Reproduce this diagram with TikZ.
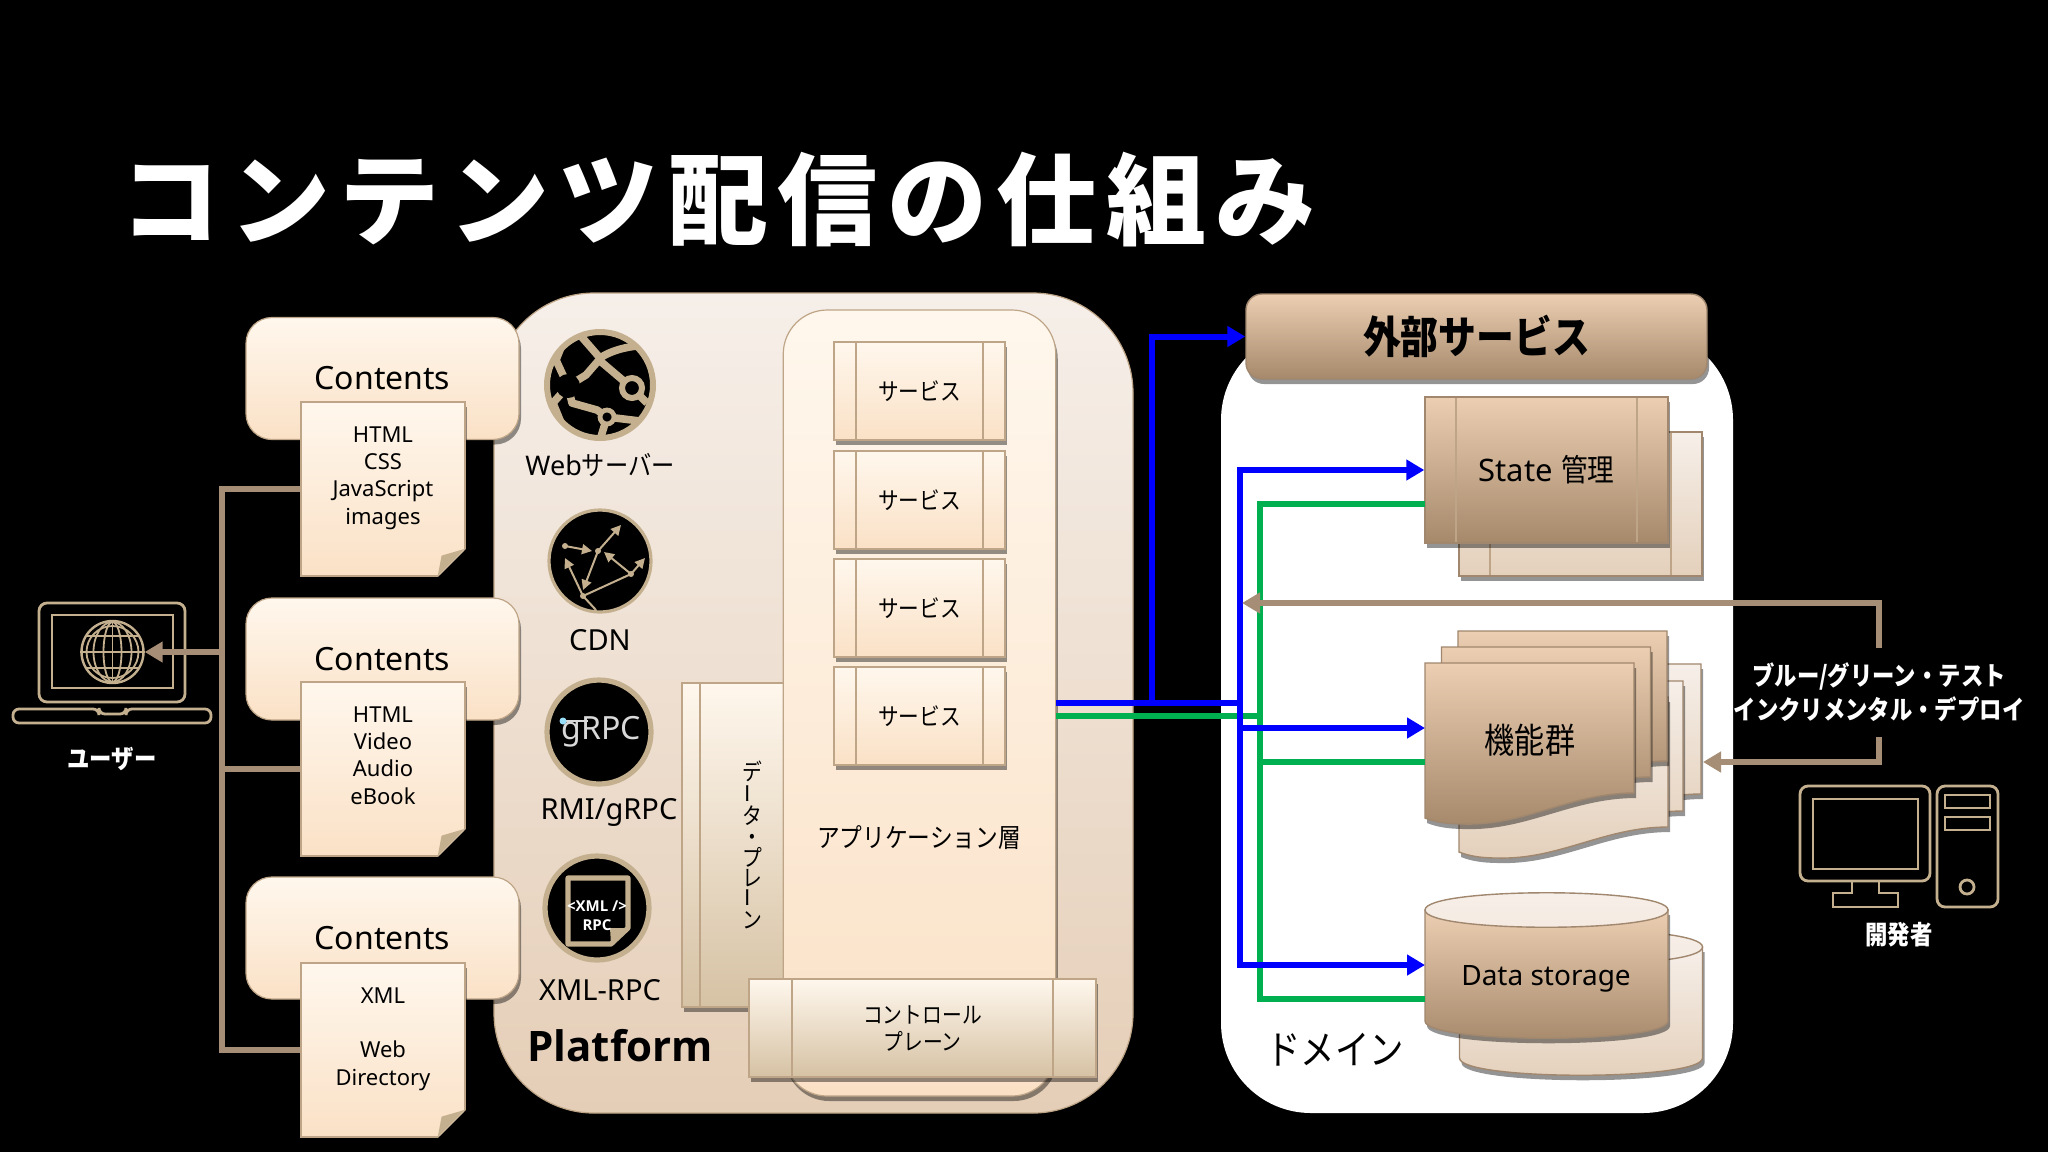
\documentclass[tikz,border=0pt]{standalone}
\usepackage{fontspec}
\usepackage{xcolor}
\usetikzlibrary{arrows.meta, positioning, calc, shadows}
\setmainfont{Noto Sans}
\newfontfamily\jpfont{Noto Sans CJK JP}[FakeStretch=0.86]
\newfontfamily\titlefont{Noto Sans CJK JP}[LetterSpace=9.5]
\newfontfamily\heavyfont{Open Sans}
\definecolor{creamtop}{RGB}{255,247,237}
\definecolor{creambot}{RGB}{250,225,198}
\definecolor{creammid}{RGB}{252,240,226}
\definecolor{sandbot}{RGB}{214,194,164}
\definecolor{platetop}{RGB}{246,239,233}
\definecolor{platebot}{RGB}{229,206,183}
\definecolor{claytop}{RGB}{236,206,178}
\definecolor{claybot}{RGB}{166,137,107}
\definecolor{palebot}{RGB}{228,208,187}
\definecolor{edgetan}{RGB}{190,165,135}
\definecolor{edgeclay}{RGB}{160,135,110}
\definecolor{icontan}{RGB}{196,176,143}
\definecolor{wirebrown}{RGB}{166,141,117}
\definecolor{wireblue}{RGB}{0,0,255}
\definecolor{wiregreen}{RGB}{0,176,80}
\tikzset{
    sz/.style 2 args={minimum width=#1*0.5pt, minimum height=#2*0.5pt, inner sep=0pt},
    softshade/.style={drop shadow={shadow xshift=1pt, shadow yshift=-2.5pt, opacity=0.42, fill=black}},
    cream/.style={draw=edgetan, line width=0.6pt, top color=creamtop, bottom color=creambot, softshade},
    sand/.style={draw=edgetan, line width=0.6pt, top color=creamtop, middle color=creammid, bottom color=sandbot, softshade},
    clay/.style={draw=edgeclay, line width=0.7pt, top color=claytop, bottom color=claybot, softshade},
    pale/.style={draw=edgeclay, line width=0.7pt, top color=platetop, bottom color=palebot, softshade},
    sidelines/.style={path picture={
        \draw[edgetan, line width=0.6pt] ([xshift=#1*0.5pt]path picture bounding box.north west) -- ([xshift=#1*0.5pt]path picture bounding box.south west);
        \draw[edgetan, line width=0.6pt] ([xshift=-#1*0.5pt]path picture bounding box.north east) -- ([xshift=-#1*0.5pt]path picture bounding box.south east);
    }},
    smalljp/.style={font=\fontsize{11.5}{13.5}\selectfont\jpfont, align=center},
    midjp/.style={font=\fontsize{13.2}{17}\selectfont\jpfont, align=center},
    iconlabel/.style={font=\fontsize{14.5}{16}\selectfont},
    whitejp/.style={font=\fontsize{13}{17}\selectfont\jpfont\bfseries, text=white, align=center},
    iconline/.style={draw=icontan, line width=1.4pt},
    iconrim/.style={circle, fill=black, draw=icontan, inner sep=0pt},
    wire/.style={line width=3pt},
    bluewire/.style={wire, wireblue},
    greenwire/.style={wire, wiregreen},
    brownwire/.style={wire, wirebrown},
    bluearrow/.style={bluewire, -{Triangle[length=9pt,width=10pt]}},
    brownarrow/.style={brownwire, -{Triangle[length=9pt,width=10pt]}},
}
\newcommand{\wavedoc}[3]{\path[#3, shift={(#1,#2)}] (1425,663) -- (1634,663) -- (1634,793) .. controls (1570,793) and (1525,826) .. (1463,824) .. controls (1447,824) and (1435,822) .. (1425,818) -- cycle;}
\newcommand{\drum}[3]{
    \path[#3, shift={(#1,#2)}] (1425,910) -- (1425,1021) .. controls (1425,1044) and (1668,1044) .. (1668,1021) -- (1668,910) -- cycle;
    \path[draw=edgeclay, line width=0.7pt, top color=platetop, bottom color=platetop!85!claytop, shift={(#1,#2)}] (1425,910) .. controls (1425,887) and (1668,887) .. (1668,910) .. controls (1668,933) and (1425,933) .. (1425,910) -- cycle;
}

\begin{document}
\begin{tikzpicture}[x=0.5pt, y=-0.5pt]

\fill[black] (0,0) rectangle (2048,1152);
\useasboundingbox (0,0) rectangle (2048,1152);

\node[font=\fontsize{50}{58}\selectfont\titlefont\bfseries, text=white, inner sep=0pt] (title) at (718,200) {コンテンツ配信の仕組み};

% Platform
\node[sz={639}{820}, rounded corners=50pt, draw=edgetan, line width=0.6pt, top color=platetop, bottom color=platebot] (platform) at (813.5,703) {};
\node[font=\fontsize{21}{24}\selectfont\heavyfont\bfseries, inner sep=0pt] (platformtxt) at (620,1046) {Platform};

% Contents
\foreach \i/\ybox/\ydoc/\txt in {a/378.5/489/{HTML\\CSS\\JavaScript\\images},
                                 b/659/769/{HTML\\Video\\Audio\\eBook},
                                 c/938/1050/{XML\\~\\Web\\Directory}} {
    \node[cream, sz={273}{122}, rounded corners=13pt, font=\fontsize{16}{18}\selectfont] (box\i) at (382.5,\ybox) {Contents};
    \node[cream, sz={164}{174}, align=center, font=\fontsize{11}{13.7}\selectfont] (doc\i) at (383,\ydoc) {\txt\\~};
    \fill[black] (doc\i.south east) ++(1,1) -- ++(0,-29) -- ++(-29,29) -- cycle;
    \fill[icontan] (doc\i.south east) ++(0,-28) -- ++(-24,7) -- ++(-4,21) -- cycle;
}

% Contents to user
\coordinate (trunk) at (222,652);
\draw[brownwire] (doca.west) -| (trunk);
\draw[brownwire] (docc.west) -| (trunk);
\draw[brownwire] (docb.west) -| (trunk);

% User
\draw[iconline, rounded corners=4pt] (39,702) -- (39,603) -- (185,603) -- (185,702) -- cycle;
\draw[iconline] (52,615) rectangle (173,688);
\draw[iconline, rounded corners=3pt] (13,709) -- (99,709) -- (99,714) -- (126,714) -- (126,709) -- (211,709) -- (211,723) -- (13,723) -- cycle;
\node[circle, draw=icontan, line width=1.2pt, inner sep=0pt, minimum size=31pt] (globe) at (112.5,652) {};
\draw[icontan, line width=0.9pt] (globe) circle[x radius=26, y radius=26];
\foreach \rx in {9,19} {
    \draw[icontan, line width=0.9pt] (globe) circle[x radius=\rx, y radius=30];
}
\draw[icontan, line width=0.9pt] (globe.north) -- (globe.south);
\draw[icontan, line width=0.9pt] (globe.west) -- (globe.east);
\draw[icontan, line width=0.9pt] (85,636) -- (140,636);
\draw[icontan, line width=0.9pt] (85,668) -- (140,668);
\draw[brownarrow] (trunk) -- (globe.east);
\node[whitejp] (usertxt) at (112,759) {ユーザー};

% Web
\node[iconrim, line width=3pt, minimum size=53pt] (webicon) at (600,385) {};
\begin{scope}
    \clip (webicon) circle[radius=52];
    \draw[icontan, line width=3.8pt, line join=round] (568,386) -- (586,375) -- (599,360) -- (632,388) -- (647,403);
    \draw[icontan, line width=3.8pt, line join=round] (568,386) -- (572,403) -- (597,410) -- (607,417) -- (640,421);
    \draw[icontan, line width=3.8pt, line join=round] (568,386) -- (556,360) -- (562,345);
    \draw[icontan, line width=3.8pt, line join=round] (568,386) -- (553,403) -- (562,425);
    \draw[icontan, line width=3.8pt, line join=round] (580,335) -- (600,358) .. controls (612,350) and (630,345) .. (655,345);
    \draw[icontan, line width=3.8pt] (607,417) -- (600,440);
    \fill[black] (568,386) circle[radius=12];
    \filldraw[fill=black, draw=icontan, line width=3pt] (632,388) circle[radius=10];
    \filldraw[fill=black, draw=icontan, line width=2.4pt] (607,417) circle[radius=7];
\end{scope}
\node[font=\fontsize{13.5}{16}\selectfont] (webtxt) at (600,465) {Web{\jpfont サーバー}};

% CDN
\node[iconrim, line width=1.6pt, minimum size=51pt] (cdnicon) at (600,561) {};
\foreach \ax/\ay/\bx/\by in {565/546/592/551, 598/551/621/525, 583/596/565/558, 598/551/583/590,
                             631/574/604/552, 631/574/645/558} {
    \draw[icontan, line width=1pt, -{Triangle[length=5pt,width=5pt]}] (\ax,\ay) -- (\bx,\by);
}
\draw[icontan, line width=1pt] (631,574) -- (583,596) -- (596,610);
\foreach \ax/\ay in {565/546, 598/551, 583/596, 631/574} {
    \fill[icontan] (\ax,\ay) circle[radius=3];
}
\node[iconlabel] (cdntxt) at (600,640) {CDN};

% gRPC
\node[iconrim, line width=2.6pt, minimum size=52pt, font=\fontsize{16}{18}\selectfont, text=black!15] (grpcicon) at (599,732) {\hspace{2pt}gRPC};
\draw[black!15, line width=0.7pt] (563,721) -- (588,721);
\fill[white!60!cyan] (563,721) circle[radius=3.5];
\node[iconlabel] (grpctxt) at (609,812) {RMI/gRPC};

% XML-RPC
\node[iconrim, line width=2.6pt, minimum size=52pt] (xmlicon) at (597,908) {};
\draw[icontan, line width=2.6pt, line join=round] (568,878) -- (628,878) -- (628,928) -- (611,944) -- (568,944) -- cycle;
\fill[icontan] (628,928) -- (611,944) -- (610,928) -- cycle;
\node[font=\fontsize{7.5}{9.5}\selectfont\heavyfont\bfseries, text=white, align=center, inner sep=0pt] (xmltxt) at (597,916) {<XML />\\RPC};
\node[iconlabel] (xmllabel) at (600,990) {XML-RPC};

% Planes and services
\node[sand, sz={102}{324}] (dataplane) at (733,845) {};
\draw[edgetan, line width=0.6pt] (700,683) -- (700,1007);
\node[cream, sz={272.5}{786}, rounded corners=22pt] (app) at (919.5,703) {};
\node[midjp] (apptxt) at (919,838) {アプリケーション層};
\node[smalljp, font=\fontsize{11.5}{10.4}\selectfont\jpfont] (datatxt) at (752,845) {デ\\\rotatebox{90}{ー}\\タ\\・\\プ\\レ\\\rotatebox{90}{ー}\\ン};
\foreach \i/\yc in {1/391, 2/500, 3/608, 4/716} {
    \node[cream, sidelines=22, sz={171}{98}, smalljp, font=\fontsize{12}{14}\selectfont\jpfont] (svc\i) at (919.5,\yc) {サービス};
}
\node[sand, sidelines=43, sz={347}{98}, smalljp] (control) at (922.5,1028) {コントロール\\プレーン};

% Domain
\node[sz={512}{783}, rounded corners=45pt, fill=white] (domain) at (1477,721.5) {};
\node[clay, sz={461}{85}, rounded corners=8pt, font=\fontsize{22}{24}\selectfont\jpfont\bfseries] (extsvc) at (1476.5,336.5) {外部サービス};
\node[font=\fontsize{20}{24}\selectfont\jpfont, inner sep=0pt] (domaintxt) at (1335,1050) {ドメイン};

% State
\node[pale, sidelines=31, sz={243}{144}] (stateback) at (1580.5,504) {};
\node[clay, sidelines=31, sz={243}{146}, font=\fontsize{15.5}{18}\selectfont] (state) at (1546.5,470) {State {\jpfont 管理}};

% Functions
\foreach \dx/\dy in {67/1, 49/18, 34/34} {
    \wavedoc{\dx}{\dy}{pale}
}
\foreach \dx/\dy in {33/-32, 16.5/-16, 0/0} {
    \wavedoc{\dx}{\dy}{clay}
}
\node[font=\fontsize{17.5}{20}\selectfont\jpfont, inner sep=0pt] (functxt) at (1530,740) {機能群};

% Storage
\drum{34.5}{37}{pale}
\drum{0}{0}{clay}
\node[font=\fontsize{14}{16}\selectfont, inner sep=0pt] (storetxt) at (1546,979) {Data storage};

% Wires
\coordinate (bluebus) at (1240,703);
\coordinate (greenbus) at (1260,716);
\coordinate (upjoin) at (1152,703);
\coordinate (stateout) at (1425,504);
\coordinate (funcin) at (1425,728);
\coordinate (funcout) at (1425,762);
\coordinate (storein) at (1425,965);
\coordinate (storeout) at (1425,999);
\draw[greenwire] ([yshift=-6.5pt]app.east) -- (greenbus);
\draw[greenwire] (stateout) -| (greenbus);
\draw[greenwire] (funcout) -| (greenbus);
\draw[greenwire] (storeout) -| (greenbus);
\draw[bluewire] (app.east) -- (bluebus);
\draw[bluearrow] (upjoin) |- (extsvc.west);
\draw[bluearrow] (bluebus) |- (state.west);
\draw[bluearrow] (bluebus) |- (funcin);
\draw[bluearrow] (bluebus) |- (storein);

% Developer
\node[whitejp, sz={290}{89}] (deploytxt) at (1879,692.5) {ブルー/グリーン・テスト\\インクリメンタル・デプロイ};
\coordinate (domainin) at (1242,603);
\coordinate (funcback) at (1703,762);
\draw[brownarrow] (deploytxt.north) |- (domainin);
\draw[brownarrow] (deploytxt.south) |- (funcback);
\draw[iconline, rounded corners=4pt] (1800,786) rectangle (1930,881);
\draw[iconline] (1813,799) rectangle (1918,869);
\draw[iconline] (1852,881) -- (1852,893) -- (1833,893) -- (1833,907) -- (1898,907) -- (1898,893) -- (1879,893) -- (1879,881);
\draw[iconline, rounded corners=4pt] (1937,786) rectangle (1998,907);
\draw[iconline] (1945,795) rectangle (1990,808);
\draw[iconline] (1945,817) rectangle (1990,830);
\draw[iconline] (1967,887) circle[radius=7];
\node[whitejp] (devtxt) at (1899,935) {開発者};

\end{tikzpicture}
\end{document}
